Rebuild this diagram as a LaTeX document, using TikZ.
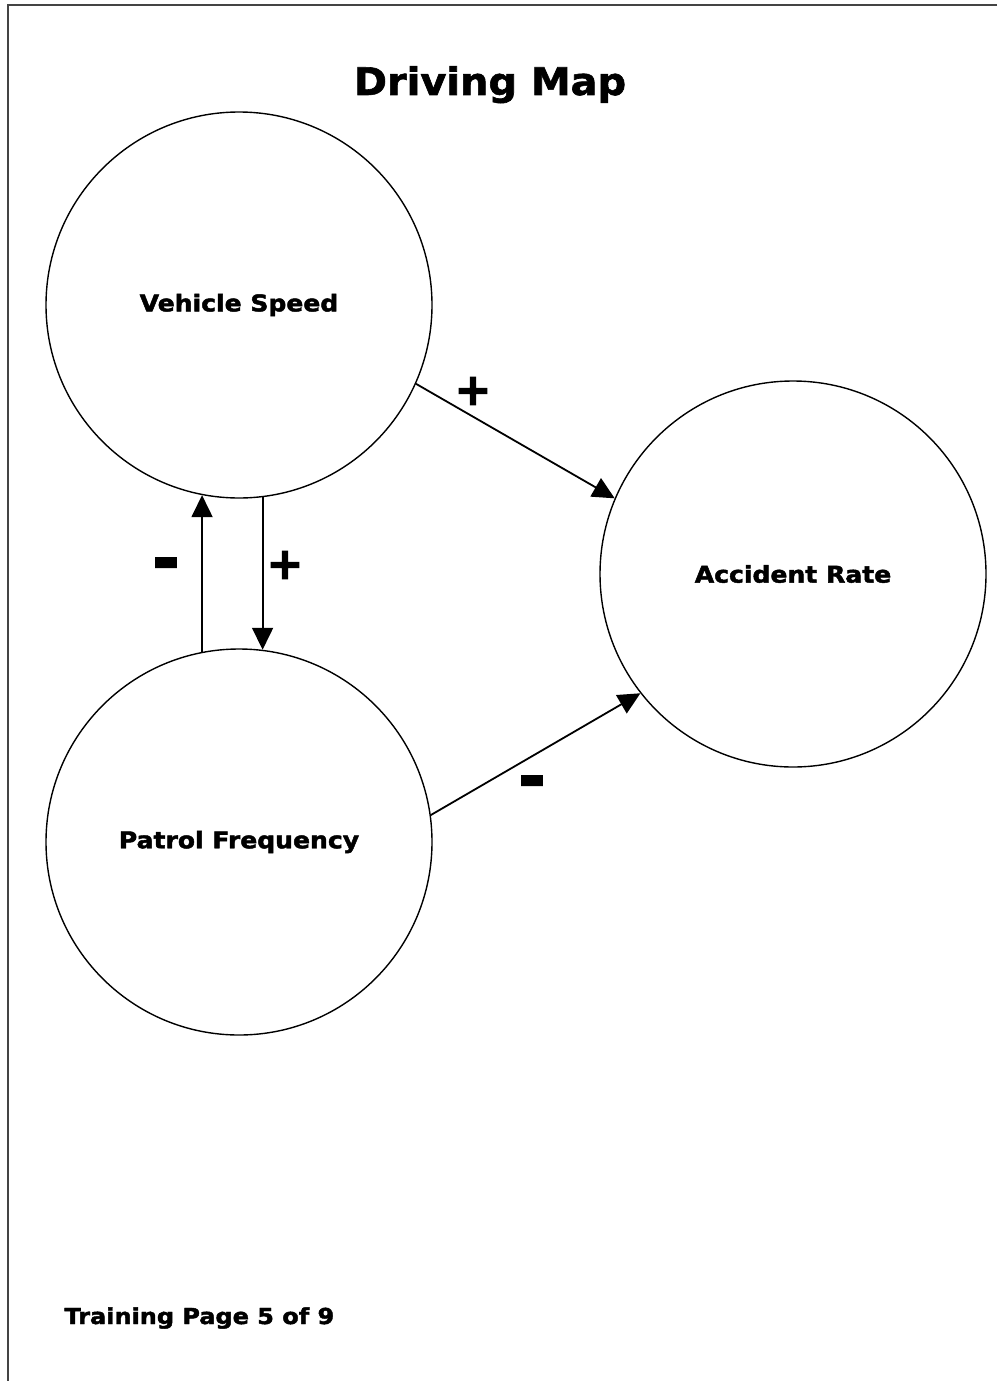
\documentclass[tikz,border=0pt]{standalone}
\usepackage{fontspec}
\setmainfont{DejaVu Sans}
\newfontfamily\heavyfont[FakeBold=2, FakeStretch=1.09]{DejaVu Sans Bold}
\newfontfamily\titlefont[FakeBold=1.6, FakeStretch=1.05]{DejaVu Sans Bold}
\newfontfamily\signfont[FakeBold=3]{DejaVu Sans Bold}
\usetikzlibrary{arrows.meta}
\definecolor{framegray}{HTML}{444444}
\tikzset{
  concept/.style={draw, circle, line width=1.4pt, minimum size=386pt, inner sep=0pt,
    font=\heavyfont\fontsize{23}{26}\selectfont},
  link/.style={line width=1.8pt, -{Triangle[length=22pt,width=21pt]}},
  plussign/.style={inner sep=0pt, font=\signfont\fontsize{44}{44}\selectfont},
  minussign/.style={inner sep=0pt, anchor=base, font=\signfont\fontsize{64}{64}\selectfont},
  frame/.style={draw=framegray, line width=2pt}
}
\begin{document}
\begin{tikzpicture}[x=1pt, y=-1pt]
  \useasboundingbox (0,0) rectangle (997,1381);
  % page frame: top and left edges
  \draw[frame] (997,5) -- (8,5) -- (8,1381);

  % title
  \node[font=\titlefont\fontsize{38}{40}\selectfont, anchor=base] (title) at (490,95) {Driving Map};

  % concepts
  \node[concept] (vs) at (239,305) {Vehicle Speed};
  \node[concept] (pf) at (239,842) {Patrol Frequency};
  \node[concept] (ar) at (793,574) {Accident Rate};

  % causal links
  \draw[link] (vs.-24) -- (ar.157);
  \draw[link] (pf.8) -- (ar.218);
  \draw[link] (pf.101) -- (vs.259);
  \draw[link] (vs.277) -- (pf.83);

  % polarities
  \node[plussign] (p1) at (473,391) {+};
  \node[plussign] (p2) at (285,565) {+};
  \node[minussign] (m1) at (166,581) {-};
  \node[minussign] (m2) at (532,799) {-};

  % footer
  \node[font=\heavyfont\fontsize{22}{24}\selectfont, anchor=base west] (footer) at (61,1324) {Training Page 5 of 9};
\end{tikzpicture}
\end{document}
